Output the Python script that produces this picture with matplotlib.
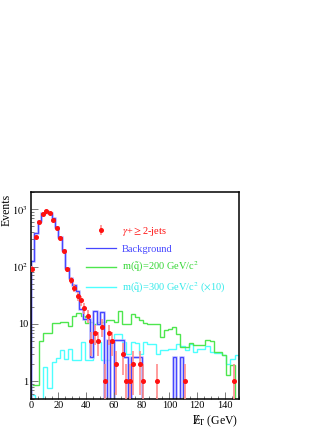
import numpy as np
import matplotlib
matplotlib.use("Agg")
import matplotlib.pyplot as plt
from matplotlib.ticker import FixedLocator, FuncFormatter, LogLocator, MultipleLocator

plt.rcParams['font.family'] = ['Liberation Serif', 'DejaVu Serif']
plt.rcParams['mathtext.fontset'] = 'stix'

# ---------------- data ----------------
bg_edges = np.arange(0, 150.01, 2.5)          # 60 bins of 2.5 GeV
sig_edges = np.arange(0, 150.01, 3.0)         # 50 bins of 3 GeV

data_counts = [91, 321, 586, 818, 923, 842, 651, 461, 308, 183,
               89, 58, 43, 31, 26, 19, 14, 5, 7, 5,
               9, 1, 7, 5, 2, 0, 3, 1, 1, 2,
               0, 2, 1, 0, 0, 0, 1, 0, 0, 0,
               0, 0, 0, 0, 1, 0, 0, 0, 0, 0,
               0, 0, 0, 0, 0, 0, 0, 0, 1, 0]

background = [124, 377, 617, 842, 923, 862, 689, 479, 321, 193,
              95, 62, 47, 38, 18, 12, 12, 2.7, 17, 10,
              16, 0, 5.3, 0, 5.3, 5.3, 5.3, 2.7, 0, 2.7,
              2.7, 2.7, 0, 0, 0, 0, 0, 0, 0, 0,
              0, 2.7, 0, 2.7, 0, 0, 0, 0, 0, 0,
              0, 0, 0, 0, 0, 0, 0, 0, 0, 0]

signal_200 = [0.85, 0.85, 5, 7, 7, 10.3, 10.3, 11, 11, 9.3,
              13.5, 15.5, 13.5, 10.5, 11, 10, 11, 11, 11.7, 11.7,
              10.8, 17, 10.1, 10.1, 15, 13.2, 11.6, 10.4, 10.1, 10.1,
              10, 5.9, 7.7, 8.3, 8.8, 6.8, 4.0, 4.0, 4.66, 4.3,
              4.3, 4.3, 5.2, 5.0, 3.25, 3.25, 2.84, 1.3, 1.9, 0]

signal_300x10 = [0.57, 0, 0, 1.78, 0.78, 2.17, 2.6, 3.47, 2.5, 3.7,
                 2.4, 2.4, 4.85, 2.33, 2.33, 4.85, 4.85, 2.33, 2.33, 4.85,
                 6.8, 6.8, 4.85, 3.04, 4.85, 4.6, 3.0, 4.85, 4.5, 4.5,
                 3.0, 3.5, 3.5, 3.7, 3.7, 4.55, 4.2, 3.47, 4.55, 3.24,
                 3.6, 3.6, 4.2, 3.24, 3.1, 3.1, 2.84, 2.03, 2.48, 2.84]

labels = [r'$\gamma$+$\geq$2-jets', 'Background',
          r'm($\tilde{\mathrm{q}}$)=200 GeV/c$^{2}$',
          r'm($\tilde{\mathrm{q}}$)=300 GeV/c$^{2}$ ($\times$10)']
y_ticks = [1, 10, 100, 1000]
x_ticks = [0, 20, 40, 60, 80, 100, 120, 140]

# ---------------- figure ----------------
fig = plt.figure(figsize=(3.32, 4.30), dpi=100)
ax = fig.add_axes([0.0925, 0.0728, 0.6265, 0.4812])
ax.set_yscale('log')

floor = 1e-3
c_blue = '#4646ff'
c_green = '#4ee64e'
c_cyan = '#4dffff'
c_red = '#ff1010'

h_sig2 = ax.stairs(np.clip(np.array(signal_300x10), floor, None), sig_edges,
                   baseline=floor, color=c_cyan, lw=1.0)
h_sig1 = ax.stairs(np.clip(np.array(signal_200), floor, None), sig_edges,
                   baseline=floor, color=c_green, lw=1.0)
ax.stairs(np.clip(np.array(background), floor, None), bg_edges,
          baseline=floor, color='#c4c4ff', lw=1.8)
h_bg = ax.stairs(np.clip(np.array(background), floor, None), bg_edges,
                 baseline=floor, color=c_blue, lw=0.9)

centers = 0.5 * (bg_edges[:-1] + bg_edges[1:])
dc = np.array(data_counts, dtype=float)
m = dc > 0
err = np.sqrt(dc[m])
lo = np.minimum(err, dc[m] - floor)
h_data = ax.errorbar(centers[m], dc[m], yerr=[lo, err], fmt='o', ms=2.6,
                     color=c_red, mec=c_red, ecolor='#ff8c8c', elinewidth=1.2,
                     capsize=0, zorder=5)

ax.set_xlim(0, 150)
ax.set_ylim(0.5, 2000)

for s in ax.spines.values():
    s.set_linewidth(1.1)
    s.set_color('black')

ax.xaxis.set_major_locator(FixedLocator(x_ticks))
ax.xaxis.set_minor_locator(MultipleLocator(5))
ax.yaxis.set_major_locator(FixedLocator(y_ticks))
ax.yaxis.set_minor_locator(LogLocator(base=10, subs=np.arange(2, 10)))


def yfmt(v, pos):
    if v == 1:
        return '1'
    if v == 10:
        return '10'
    return r'$10^{%d}$' % int(round(np.log10(v)))


ax.yaxis.set_major_formatter(FuncFormatter(yfmt))
ax.tick_params(which='both', direction='in', color='#666666', width=0.6,
               labelsize=7.5, top=False, right=False)
ax.tick_params(which='major', length=5, pad=2)
ax.tick_params(which='minor', length=2.5, labelleft=False)

ax.set_xlabel(r'$\mathrm{E\!\!\!/}_{\mathrm{T}}$ (GeV)', fontsize=8.5, loc='right')
ax.xaxis.set_label_coords(1.0, -0.07)
ax.set_ylabel('Events', fontsize=8.5, loc='top')
ax.yaxis.set_label_coords(-0.088, 0.99)

leg = ax.legend([h_data, h_bg, h_sig1, h_sig2], labels, frameon=False,
                loc='upper left', bbox_to_anchor=(0.267, 0.84),
                borderpad=0, borderaxespad=0, handlelength=2.9,
                handletextpad=0.5, labelspacing=0.62, fontsize=7.5)
for txt, col in zip(leg.get_texts(), [c_red, c_blue, '#33d633', '#33eaea']):
    txt.set_color(col)

fig.savefig('out.png', dpi=100)
